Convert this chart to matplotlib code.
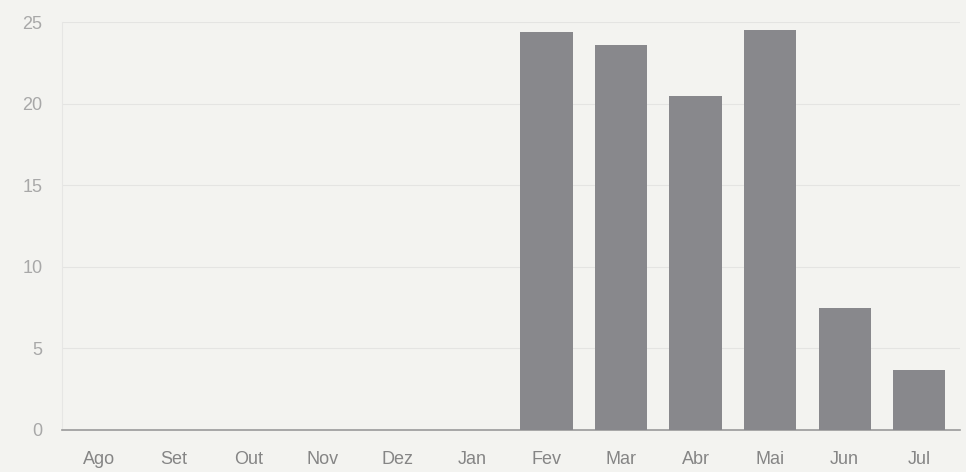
import numpy as np
import matplotlib.pyplot as plt

months = ['Ago', 'Set', 'Out', 'Nov', 'Dez', 'Jan', 'Fev', 'Mar', 'Abr', 'Mai', 'Jun', 'Jul']
values = [0, 0, 0, 0, 0, 0, 24.4, 23.6, 20.5, 24.5, 7.5, 3.7]
yticks = [0, 5, 10, 15, 20, 25]

plt.rcParams['font.family'] = ['Liberation Sans', 'DejaVu Sans']

fig = plt.figure(figsize=(9.66, 4.72), dpi=100, facecolor='#f3f3f0')
ax = fig.add_axes([0.064, 0.089, 0.93, 0.864])
ax.set_facecolor('#f3f3f0')

x = np.arange(len(months))
ax.bar(x, values, width=0.7, color='#88888c', zorder=3)

ax.set_xlim(-0.5, len(months) - 0.45)
ax.set_ylim(0, 25)
ax.set_yticks(yticks)
ax.set_xticks(x)
ax.set_xticklabels(months)
ax.tick_params(axis='both', length=0, labelsize=13)
ax.tick_params(axis='x', pad=15, colors='#858585')
ax.tick_params(axis='y', pad=14, colors='#a8a8a8')
ax.grid(axis='y', color='#e4e4e2', linewidth=0.8, zorder=0)

for s in ['top', 'right']:
    ax.spines[s].set_visible(False)
ax.spines['left'].set_color('#e6e6e4')
ax.spines['bottom'].set_color('#9a9a9a')
ax.spines['bottom'].set_linewidth(1.2)

fig.savefig('out.png', dpi=100, facecolor=fig.get_facecolor())
